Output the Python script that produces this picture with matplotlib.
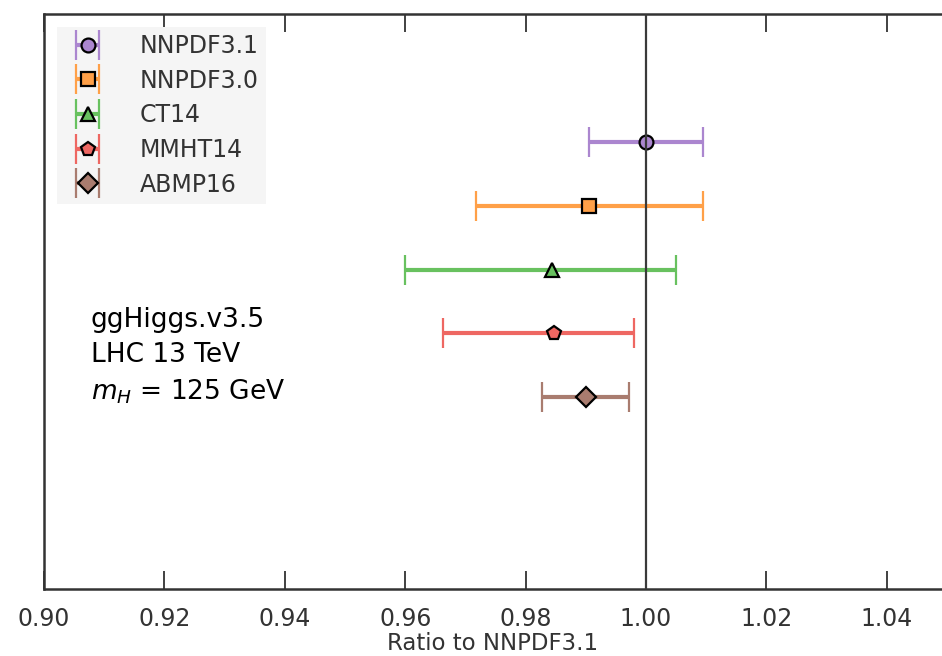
import matplotlib
matplotlib.use("Agg")
import matplotlib.pyplot as plt

plt.rcParams['mathtext.fontset'] = 'dejavusans'

pdfs = ["NNPDF3.1", "NNPDF3.0", "CT14", "MMHT14", "ABMP16"]
central = [1.0000, 0.9906, 0.9844, 0.9847, 0.9901]
lower = [0.9905, 0.9717, 0.9600, 0.9662, 0.9828]
upper = [1.0094, 1.0094, 1.0050, 0.9980, 0.9972]
ypos = [5, 4, 3, 2, 1]

colors = ["#ab86cf", "#ffa048", "#68c15f", "#ee6762", "#a97c6f"]
markers = ["o", "s", "^", "p", "D"]

fig = plt.figure(figsize=(9.42, 6.56), dpi=100)
ax = fig.add_axes([44/942, 67/656, 898/942, 575/656])

for i in range(len(pdfs)):
    err = [[central[i] - lower[i]], [upper[i] - central[i]]]
    ax.errorbar([central[i]], [ypos[i]], xerr=err, fmt=markers[i],
                color=colors[i], mfc=colors[i], mec="black", mew=1.6,
                ms=10, elinewidth=3, capsize=10.5, capthick=1.6,
                label=pdfs[i], zorder=3)

ax.axvline(1.0, color="#3a3a3a", lw=1.6, zorder=4)

ax.set_xlim(0.9, 0.9 + 898/6020)
ax.set_ylim(-2, 7)
ax.set_yticks([])
ax.set_xticks([0.90, 0.92, 0.94, 0.96, 0.98, 1.00, 1.02, 1.04])
ax.xaxis.set_major_formatter(matplotlib.ticker.FormatStrFormatter("%.2f"))
ax.tick_params(axis="x", direction="in", length=13, width=1.3, color="#333333",
               top=True, labelsize=17, pad=13, labelcolor="#333333")
for s in ax.spines.values():
    s.set_color("#333333")
    s.set_linewidth(1.8)
ax.spines["right"].set_visible(False)
ax.set_xlabel("Ratio to NNPDF3.1", fontsize=16.5, color="#333333", labelpad=1)

ax.text(0.052, 0.49, "ggHiggs.v3.5\nLHC 13 TeV\n$m_H$ = 125 GeV",
        transform=ax.transAxes, fontsize=19, va="top", ha="left",
        linespacing=1.43)

leg = ax.legend(loc="upper left", fontsize=17, frameon=True, fancybox=False,
                borderaxespad=0.55, labelspacing=0.45, handletextpad=1.2,
                borderpad=0.3, handlelength=2.0)
leg.get_frame().set_facecolor("#f5f5f5")
leg.get_frame().set_edgecolor("none")
leg.get_frame().set_alpha(1)
for t in leg.get_texts():
    t.set_color("#333333")

fig.savefig("out.png", dpi=100)
